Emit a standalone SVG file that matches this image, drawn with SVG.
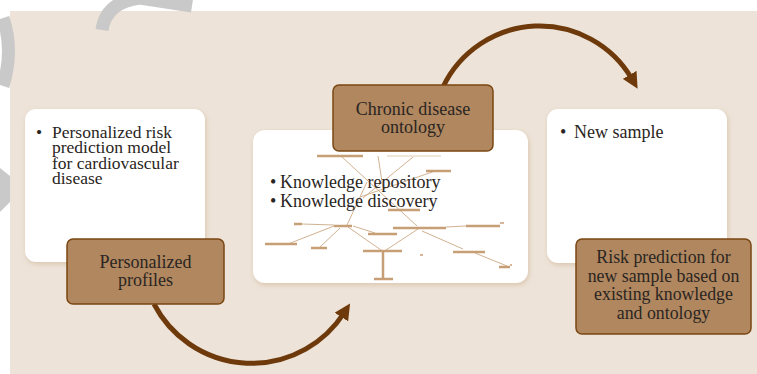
<svg xmlns="http://www.w3.org/2000/svg" width="757" height="374" viewBox="0 0 757 374">
<style>
.card{fill:#ffffff;filter:url(#sh);}
.tag{fill:#B0875F;stroke:#7A4712;stroke-width:1.5;}
text{font-family:'Liberation Serif','DejaVu Serif',serif;fill:#2a2522;}
.tc{text-anchor:middle;}
.conn{fill:none;stroke:#6E3A0B;stroke-width:5;}
.tr{stroke:#D2B291;stroke-width:1;fill:none;}
.bar{stroke:#C79F76;stroke-width:2.5;}
.wm{fill:none;stroke:#c9c9c9;stroke-width:13;}
</style>
<defs>
<filter id="sh" x="-10%" y="-10%" width="120%" height="120%">
<feDropShadow dx="1" dy="2" stdDeviation="2.5" flood-color="#d8c3a8" flood-opacity="0.9"/>
</filter>
<marker id="ah" viewBox="0 0 10 10" refX="3" refY="5" markerWidth="16" markerHeight="16" markerUnits="userSpaceOnUse" orient="auto">
<path d="M0,0 L10,5 L0,10 z" fill="#6E3A0B"/>
</marker>
</defs>
<rect x="0" y="0" width="757" height="374" fill="#ffffff"/>
<rect x="10" y="11" width="747" height="363" fill="#EDE3D8"/>
<g id="watermark">
<path class="wm" d="M3 18 Q14 50 3 86"/>
<polygon points="0,168 10,176 10,202 0,212" fill="#c9c9c9"/>
<path class="wm" d="M102 30 Q106 2 140 -2 L192 6"/>
</g>
<g id="connectors">
<path class="conn" d="M443 87 A107 107 0 0 1 632 79" marker-end="url(#ah)"/>
<path class="conn" d="M154 304 A110 110 0 0 0 344 313" marker-end="url(#ah)"/>
</g>
<g id="node-left-card">
<rect class="card" x="25" y="109" width="180" height="153" rx="11"/>
<text font-size="17.5"><tspan x="36" y="138">•</tspan><tspan x="52" y="138">Personalized risk</tspan><tspan x="52" y="153.3">prediction model</tspan><tspan x="52" y="168.6">for cardiovascular</tspan><tspan x="52" y="183.9">disease</tspan></text>
</g>
<g id="node-middle-card">
<rect class="card" x="253" y="130" width="275" height="153" rx="12"/>
<g id="ontology-tree">
<path class="tr" d="M342 157 L417 226 M378 156 L383 188 M413 157 L363 198 M435 171 L360 197 M367 182 L347 225 M334 226 L288 244 M340 228 L320 247 M348 227 L381 250 M353 226 L375 233 M334 225 L302 224 M418 229 L386 250 M446 227 L466 226 M422 231 L463 249 M475 253 L507 266"/>
<path class="bar" d="M317 156 H363 M426 171 H451 M388 210 H420 M294 224 H302 M334 226 H352 M368 234 H397 M393 228 H446 M466 226 H500 M265 244 H297 M311 248 H327 M363 251 H402 M453 252 H485 M499 267 H510 M374 279 H393 M383 252 V279"/>
<path stroke="#E1CCB4" stroke-width="1.2" d="M387 156 H441"/>
<path stroke="#C79F76" stroke-width="1.5" d="M500 223 H504 M510 265 H512 M420 255 H423"/>
</g>
<text font-size="18"><tspan x="270" y="188">•</tspan><tspan x="280" y="188">Knowledge repository</tspan><tspan x="270" y="207">•</tspan><tspan x="280" y="207">Knowledge discovery</tspan></text>
</g>
<g id="node-right-card">
<rect class="card" x="547" y="109" width="180" height="154" rx="11"/>
<text font-size="18"><tspan x="560" y="138">•</tspan><tspan x="574" y="138">New sample</tspan></text>
</g>
<g id="node-personalized-profiles">
<rect class="tag" x="67" y="239" width="157" height="65" rx="6"/>
<text class="tc" font-size="18"><tspan x="145.5" y="268">Personalized</tspan><tspan x="145.5" y="286">profiles</tspan></text>
</g>
<g id="node-chronic-disease-ontology">
<rect class="tag" x="333" y="85" width="160" height="66" rx="6"/>
<text class="tc" font-size="18"><tspan x="413" y="115">Chronic disease</tspan><tspan x="413" y="133">ontology</tspan></text>
</g>
<g id="node-risk-prediction">
<rect class="tag" x="576" y="239" width="175" height="95" rx="6"/>
<text class="tc" font-size="17.8"><tspan x="663.5" y="263">Risk prediction for</tspan><tspan x="663.5" y="281.5">new sample based on</tspan><tspan x="663.5" y="300">existing knowledge</tspan><tspan x="663.5" y="318.5">and ontology</tspan></text>
</g>
</svg>
